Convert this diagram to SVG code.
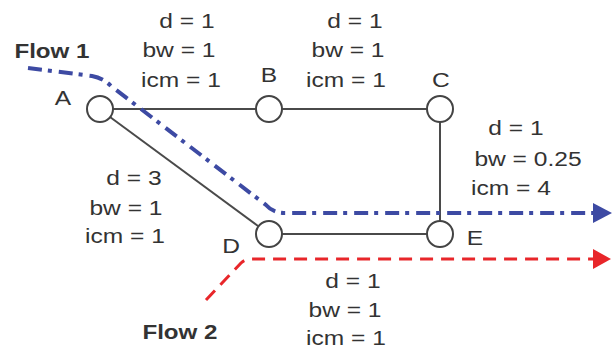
<svg xmlns="http://www.w3.org/2000/svg" width="615" height="351" viewBox="0 0 615 351">
<defs>
<style>
.lbl{font-family:"Liberation Sans",Arial,sans-serif;font-size:21px;fill:#333;text-anchor:middle}
.flow{font-family:"Liberation Sans",Arial,sans-serif;font-size:21px;font-weight:bold;fill:#333;text-anchor:middle}
.node circle{fill:#fff;stroke:#444;stroke-width:2}
.link{stroke:#4a4a4a;stroke-width:2;fill:none}
</style>
</defs>
<rect width="615" height="351" fill="#fff"/>
<g id="connectors">
<line class="link" x1="113" y1="109" x2="256" y2="109"/>
<line class="link" x1="282" y1="109" x2="427" y2="109"/>
<line class="link" x1="440" y1="122" x2="440" y2="221"/>
<line class="link" x1="282" y1="234" x2="427" y2="234"/>
<line class="link" x1="110" y1="117" x2="258" y2="226"/>
</g>
<g id="flow1">
<path d="M28,68 L92,76 Q103,78 111,86 L266,205 Q273,213 284,213 L596,213" fill="none" stroke="#3d4aa3" stroke-width="4" stroke-dasharray="14,6,4,7"/>
<polygon points="593,203 612,213 593,223" fill="#3d4aa3"/>
<text class="flow" transform="scale(1.15,1)" x="45.2" y="58">Flow 1</text>
</g>
<g id="flow2">
<path d="M206,300 L241,263 Q245,259 251,259 L596,259" fill="none" stroke="#e8262a" stroke-width="3" stroke-dasharray="13,8"/>
<polygon points="593,249 611,259 593,269" fill="#e8262a"/>
<text class="flow" transform="scale(1.15,1)" x="156.5" y="339">Flow 2</text>
</g>
<g id="A" class="node"><circle cx="100" cy="109" r="13"/><text class="lbl" transform="scale(1.17,1)" x="53.85" y="105">A</text></g>
<g id="B" class="node"><circle cx="269" cy="109" r="13"/><text class="lbl" transform="scale(1.17,1)" x="229.91" y="82">B</text></g>
<g id="C" class="node"><circle cx="440" cy="109" r="13"/><text class="lbl" transform="scale(1.17,1)" x="376.92" y="87">C</text></g>
<g id="D" class="node"><circle cx="269" cy="234" r="13"/><text class="lbl" transform="scale(1.17,1)" x="197.44" y="253">D</text></g>
<g id="E" class="node"><circle cx="440" cy="234" r="13"/><text class="lbl" transform="scale(1.17,1)" x="405.98" y="245">E</text></g>
<g id="labels" transform="scale(1.17,1)">
<text class="lbl" x="159.83" y="28">d = 1</text>
<text class="lbl" x="152.99" y="57">bw = 1</text>
<text class="lbl" x="154.70" y="87">icm = 1</text>
<text class="lbl" x="303.42" y="28">d = 1</text>
<text class="lbl" x="297.44" y="57">bw = 1</text>
<text class="lbl" x="295.73" y="87">icm = 1</text>
<text class="lbl" x="441.03" y="135">d = 1</text>
<text class="lbl" x="451.28" y="166">bw = 0.25</text>
<text class="lbl" x="436.75" y="195">icm = 4</text>
<text class="lbl" x="114.53" y="185">d = 3</text>
<text class="lbl" x="107.69" y="215">bw = 1</text>
<text class="lbl" x="106.84" y="243">icm = 1</text>
<text class="lbl" x="301.71" y="288">d = 1</text>
<text class="lbl" x="294.87" y="317">bw = 1</text>
<text class="lbl" x="295.73" y="345">icm = 1</text>
</g>
</svg>
